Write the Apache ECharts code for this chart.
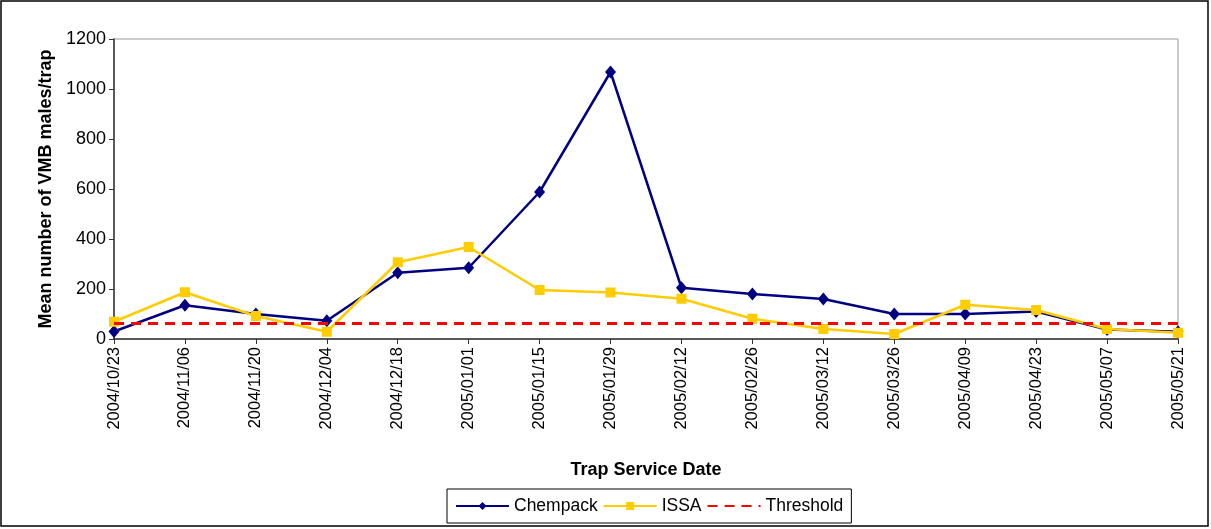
<!DOCTYPE html>
<html>
<head>
<meta charset="utf-8">
<script src="https://cdn.jsdelivr.net/npm/echarts@6/dist/echarts.min.js"></script>
<style>
  html, body { margin: 0; padding: 0; background: #fff; }
  #chart { width: 1211px; height: 529px; }
</style>
</head>
<body>
<div id="chart"></div>
<script>
// 采样日期
var dates = ['2004/10/23', '2004/11/06', '2004/11/20', '2004/12/04', '2004/12/18', '2005/01/01',
    '2005/01/15', '2005/01/29', '2005/02/12', '2005/02/26', '2005/03/12', '2005/03/26',
    '2005/04/09', '2005/04/23', '2005/05/07', '2005/05/21'];
var chempack = [30, 135, 100, 73, 265, 285, 588, 1068, 205, 180, 160, 100, 100, 110, 38, 29];
var issa = [69, 187, 92, 29, 307, 368, 196, 186, 161, 81, 40, 20, 137, 116, 40, 25];
var threshold = 64;
var yTicks = [0, 200, 400, 600, 800, 1000, 1200];

var chart = echarts.init(document.getElementById('chart'));
var font = 'Arial, "Liberation Sans", sans-serif';
var option = {
    animation: false,
    textStyle: { fontFamily: font },
    graphic: [{
        type: 'rect',
        shape: { x: 1, y: 1, width: 1207, height: 525 },
        style: { fill: 'none', stroke: '#000', lineWidth: 1.5 },
        silent: true
    }],
    grid: {
        left: 114, top: 39, right: 33, bottom: 190,
        show: true, borderColor: '#999', borderWidth: 1, backgroundColor: 'transparent'
    },
    legend: {
        left: 447, top: 489,
        orient: 'horizontal',
        borderColor: '#000', borderWidth: 1,
        padding: [8, 8, 8, 8],
        itemGap: 5,
        itemWidth: 53, itemHeight: 10,
        textStyle: { fontSize: 17.5, color: '#000', fontFamily: font },
        data: ['Chempack', 'ISSA', { name: 'Threshold', itemStyle: { opacity: 0 } }]
    },
    xAxis: {
        type: 'category',
        data: dates,
        boundaryGap: false,
        name: 'Trap Service Date',
        nameLocation: 'middle',
        nameGap: 122,
        nameTextStyle: { fontSize: 18, fontWeight: 'bold', color: '#000', fontFamily: font },
        axisLine: { lineStyle: { color: '#333', width: 1.5 } },
        axisTick: { show: true, alignWithLabel: true, length: 5, lineStyle: { color: '#333' } },
        axisLabel: { rotate: 90, fontSize: 16.5, color: '#000', margin: 8, interval: 0, fontFamily: font },
        splitLine: { show: false }
    },
    yAxis: {
        type: 'value',
        min: yTicks[0], max: yTicks[yTicks.length - 1], interval: 200,
        name: 'Mean number of VMB males/trap',
        nameLocation: 'middle',
        nameRotate: 90,
        nameGap: 59,
        nameTextStyle: { fontSize: 18, fontWeight: 'bold', color: '#000', fontFamily: font },
        axisLine: { show: true, lineStyle: { color: '#333', width: 1.5 } },
        axisTick: { show: true, inside: false, length: 5, lineStyle: { color: '#333' } },
        axisLabel: {
            fontSize: 18, color: '#000', margin: 8, fontFamily: font,
            formatter: function (v) { return String(v); }
        },
        splitLine: { show: false }
    },
    series: [{
        name: 'Chempack',
        type: 'line',
        data: chempack,
        symbol: 'diamond',
        symbolSize: [11, 13],
        itemStyle: { color: '#000080' },
        lineStyle: { color: '#000080', width: 2.5 },
        z: 3
    }, {
        name: 'ISSA',
        type: 'line',
        data: issa,
        symbol: 'rect',
        symbolSize: 10,
        itemStyle: { color: '#FFCC00' },
        lineStyle: { color: '#FFCC00', width: 2.5 },
        z: 4
    }, {
        name: 'Threshold',
        type: 'line',
        data: [],
        symbol: 'none',
        itemStyle: { color: '#FF0000' },
        lineStyle: { color: '#FF0000', width: 3, type: [10, 7] },
        markLine: {
            silent: true,
            symbol: 'none',
            label: { show: false },
            lineStyle: { color: '#FF0000', width: 3, type: [10, 7] },
            data: [{ yAxis: threshold }]
        },
        z: 2
    }]
};
chart.setOption(option);
</script>
</body>
</html>
